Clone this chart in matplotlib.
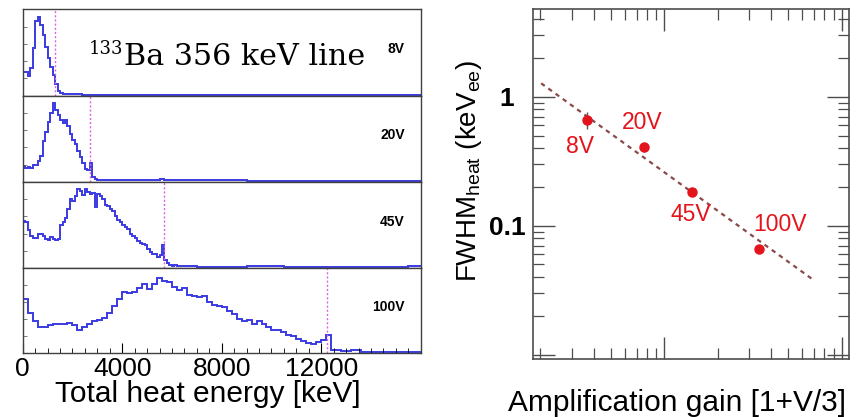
import numpy as np
import matplotlib.pyplot as plt
from matplotlib.ticker import NullFormatter, LogLocator, MultipleLocator

plt.rcParams.update({'font.family': 'Liberation Sans', 'mathtext.fontset': 'custom',
                     'mathtext.rm': 'Liberation Sans', 'mathtext.it': 'Liberation Sans:italic',
                     'mathtext.default': 'regular'})

W, H = 859, 417

# ---- left: heat-energy spectra (relative counts), one panel per bias voltage ----
volts = ['8V', '20V', '45V', '100V']
line_kev = [1300, 2690, 5670, 12230]          # 356 keV line position for each bias
bin_w = [100, 100, 100, 200]                  # keV, fine-binned part
c8 = [0.28, 0.27, 0.23, 0.32, 0.55, 0.86, 0.91, 0.82, 0.70, 0.56, 0.44, 0.33, 0.24,
      0.14, 0.06, 0.03, 0.02, 0.015]
c20 = [0.18, 0.16, 0.17, 0.16, 0.19, 0.20, 0.24, 0.30, 0.47, 0.58, 0.70, 0.80, 0.91,
       0.83, 0.78, 0.72, 0.68, 0.72, 0.65, 0.55, 0.48, 0.44, 0.36, 0.29, 0.22, 0.15,
       0.14, 0.22, 0.06, 0.03]
c45 = [0.55, 0.54, 0.44, 0.37, 0.35, 0.35, 0.40, 0.40, 0.37, 0.34,
       0.33, 0.36, 0.34, 0.33, 0.34, 0.50, 0.54, 0.58, 0.68, 0.80,
       0.78, 0.83, 0.91, 0.89, 0.85, 0.91, 0.88, 0.86, 0.87, 0.71,
       0.86, 0.84, 0.80, 0.73, 0.72, 0.68, 0.66, 0.60, 0.56, 0.54,
       0.50, 0.48, 0.45, 0.40, 0.37, 0.35, 0.31, 0.29, 0.28, 0.27,
       0.22, 0.19, 0.17, 0.16, 0.13, 0.15, 0.27, 0.10, 0.06, 0.04,
       0.03, 0.04]
c100 = [0.64, 0.48, 0.38, 0.31, 0.31, 0.33, 0.35, 0.35, 0.35, 0.36,
        0.33, 0.28, 0.31, 0.35, 0.38, 0.39, 0.42, 0.48, 0.56, 0.64,
        0.72, 0.71, 0.72, 0.77, 0.81, 0.76, 0.82, 0.89, 0.85, 0.84,
        0.78, 0.75, 0.77, 0.69, 0.67, 0.66, 0.67, 0.60, 0.57, 0.56,
        0.54, 0.50, 0.46, 0.40, 0.38, 0.39, 0.35, 0.38, 0.34, 0.31,
        0.27, 0.27, 0.25, 0.22, 0.20, 0.17, 0.14, 0.12, 0.11, 0.13,
        0.16, 0.22, 0.04, 0.04]
# coarse tail beyond the fine region: bin upper edges and counts
tail_e = [[2100, 2200, 2400, 4000, 16000],
          [3500, 5500, 5700, 9000, 16000],
          [7000, 9000, 10500, 15500, 16000],
          [13200, 13600, 14000, 16000]]
tail_c = [[0.015, 0.025, 0.015, 0.012, 0.01],
          [0.025, 0.018, 0.03, 0.015, 0.012],
          [0.03, 0.02, 0.025, 0.015, 0.03],
          [0.03, 0.04, 0.02, 0.015]]
counts = [c8, c20, c45, c100]

# ---- right: FWHM of heat channel vs amplification gain ----
gain = [3.65, 7.67, 14.4, 34.3]
fwhm = [0.66, 0.405, 0.183, 0.066]
err = [0.10, 0.035, 0.008, 0.003]
pt_lab = ['8V', '20V', '45V', '100V']
lab_x = [3.35, 7.46, 14.1, 44.9]
lab_y = [0.41, 0.63, 0.121, 0.103]
fit_x = [2.02, 69.2]
fit_y = [1.27, 0.038]

fig = plt.figure(figsize=(W / 100, H / 100), dpi=100)

x0, x1 = 22.7, 420.7
tops = [9.3, 95.7, 181.7, 268.3, 353.3]
for k in range(4):
    ax = fig.add_axes([x0 / W, 1 - tops[k + 1] / H, (x1 - x0) / W, (tops[k + 1] - tops[k]) / H])
    n = len(counts[k])
    edges = np.r_[np.arange(n + 1) * bin_w[k], tail_e[k]]
    ax.stairs(counts[k] + tail_c[k], edges, color='#3a3ae2', lw=1.4, baseline=None)
    ax.axvline(line_kev[k], color='#e060e0', lw=1.0, ls=(0, (1.5, 1.5)))
    ax.set_xlim(0, 16000); ax.set_ylim(0, 1.0)
    ax.text(0.96, 0.54, volts[k], transform=ax.transAxes, ha='right', va='center',
            fontsize=10, fontweight='bold')
    ax.set_yticks([0.2, 0.4, 0.6, 0.8]); ax.set_yticklabels([])
    ax.tick_params(axis='y', direction='in', length=3, width=0.6, color='0.4')
    for s in ax.spines.values():
        s.set_linewidth(1.0); s.set_color('0.25')
    if k < 3:
        ax.set_xticks([])
    else:
        ax.set_xticks([0, 4000, 8000, 12000])
        ax.set_xticklabels(['0', '4000', '8000', '12000'], fontsize=19)
        ax.xaxis.set_minor_locator(MultipleLocator(500))
        ax.tick_params(axis='x', which='major', direction='in', length=7, width=0.8, pad=3)
        ax.tick_params(axis='x', which='minor', direction='in', length=3.5, width=0.6)

fig.text(123.5 / W, 1 - 54 / H, '133', family='DejaVu Serif', fontsize=13, ha='right', va='baseline')
fig.text(124 / W, 1 - 65 / H, 'Ba 356 keV line', family='DejaVu Serif', fontsize=21.7,
         ha='left', va='baseline')
fig.text(208 / W, 1 - 394 / H, 'Total heat energy [keV]', fontsize=21.5, ha='center', va='center')

# right panel
ax2 = fig.add_axes([532.7 / W, 1 - 359.3 / H, (849.3 - 532.7) / W, (359.3 - 9.3) / H])
ax2.set_xscale('log'); ax2.set_yscale('log')
ax2.plot(fit_x, fit_y, color='#8a4a4a', lw=1.6, ls=(0, (2, 2)))
ax2.errorbar(gain, fwhm, yerr=err, fmt='o', color='#e3141b', ms=6.5, ecolor='0.35',
             elinewidth=1, capsize=0, zorder=3)
for x, y, s in zip(lab_x, lab_y, pt_lab):
    ax2.text(x, y, s, color='#e3141b', fontsize=16.5, ha='center', va='center')
ax2.set_xlim(1.81, 110.4); ax2.set_ylim(0.0092, 4.76)
ax2.xaxis.set_major_locator(LogLocator(base=10))
ax2.xaxis.set_minor_locator(LogLocator(base=10, subs=np.arange(2, 10)))
ax2.xaxis.set_major_formatter(NullFormatter()); ax2.xaxis.set_minor_formatter(NullFormatter())
ax2.set_yticks([0.01, 0.1, 1])
ax2.set_yticklabels(['', '0.1', '1'], fontsize=19, fontweight='bold')
for lbl in ax2.get_yticklabels():
    lbl.set_horizontalalignment('center')
ax2.yaxis.set_minor_locator(LogLocator(base=10, subs=np.arange(2, 10)))
ax2.yaxis.set_minor_formatter(NullFormatter())
ax2.tick_params(which='both', direction='in', top=True, right=True, color='0.3')
ax2.tick_params(which='major', length=16, width=1.0)
ax2.tick_params(axis='y', which='major', pad=18.5)
ax2.tick_params(which='minor', length=8, width=0.9)
for s in ax2.spines.values():
    s.set_linewidth(1.2); s.set_color('0.3')

fig.text(469 / W, 1 - 171 / H, 'FWHM$_{heat}$ (keV$_{ee}$)', rotation=90, fontsize=20,
         ha='center', va='center')
fig.text(676.7 / W, 1 - 403 / H, 'Amplification gain [1+V/3]', fontsize=21.5, ha='center', va='center')

fig.savefig('out.png', dpi=100, facecolor='white')
